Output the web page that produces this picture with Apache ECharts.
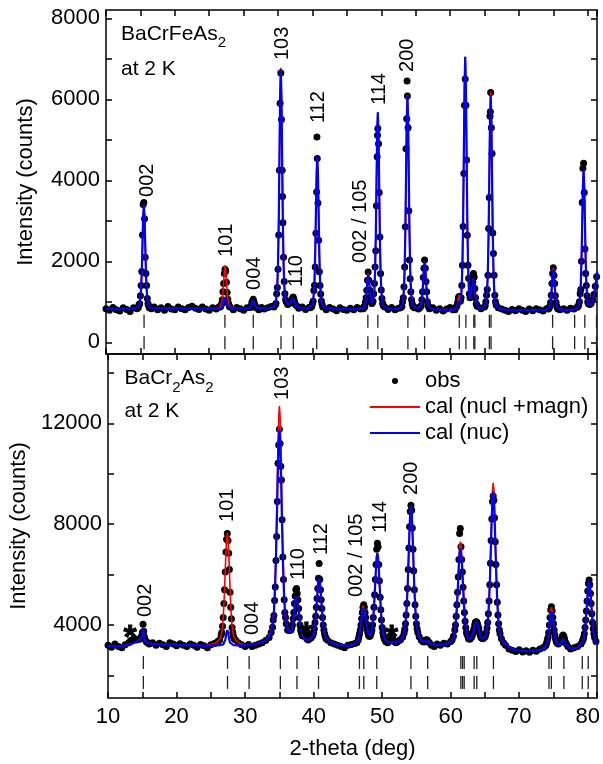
<!DOCTYPE html>
<html><head><meta charset="utf-8">
<script src="https://cdn.jsdelivr.net/npm/echarts@6/dist/echarts.min.js"></script>
<style>html,body{margin:0;padding:0;background:#fff}#c{width:603px;height:764px}</style>
</head><body><div id="c"></div>
<script>
// ---------------- DATA (2-theta in deg, intensity in counts) ----------------
const topObs = [[10.0,830],[10.5,790],[11.0,860],[11.5,800],[12.0,770],[12.5,850],[13.0,810],[13.5,760],[14.0,850],[14.5,830],
[14.7,860],[14.8,930],[14.9,950],[15.0,1150],[15.1,1400],[15.2,1750],[15.3,2650],[15.4,3400],[15.5,3450],[15.6,3050],[15.7,2100],[15.8,1700],[15.9,1400],[16.0,1080],[16.1,950],[16.2,900],[16.3,850],
[16.6,830],[17.0,870],[17.5,800],[18.0,850],[18.5,790],[19.0,880],[19.5,820],[20.0,800],[20.5,870],[21.0,830],[21.5,800],[22.0,860],[22.5,890],[23.0,840],[23.5,810],[24.0,870],[24.5,820],[25.0,790],[25.5,850],[26.0,820],[26.4,870],
[26.6,870],[26.7,900],[26.8,950],[26.9,1050],[27.0,1250],[27.1,1450],[27.2,1700],[27.3,1800],[27.4,1760],[27.5,1480],[27.6,1230],[27.7,1060],[27.8,960],[27.9,900],[28.0,870],
[28.5,800],[29.0,860],[29.5,830],[30.0,790],[30.5,850],
[31.0,860],[31.1,900],[31.2,990],[31.3,1010],[31.4,1060],[31.5,1000],[31.6,940],[31.7,900],[31.8,850],
[32.2,800],[32.6,860],[33.0,820],[33.5,850],[34.0,880],[34.4,870],
[34.6,920],[34.7,960],[34.8,1200],[34.9,1350],[35.0,1800],[35.1,2650],[35.2,4250],[35.3,5900],[35.4,6650],[35.5,5500],[35.6,4250],[35.65,3600],[35.7,2950],[35.8,2100],[35.9,1500],[36.0,1200],[36.1,1050],[36.2,1000],[36.4,930],[36.6,960],[36.8,990],[36.9,980],[37.0,1040],[37.1,1090],[37.2,1120],[37.3,1070],[37.4,1000],[37.5,940],[37.7,900],[38.0,840],[38.5,870],[39.0,810],[39.5,860],
[39.7,850],[39.9,880],[40.0,950],[40.1,1010],[40.2,1280],[40.3,1410],[40.4,1860],[40.5,2690],[40.6,3710],[40.65,5070],[40.7,4540],[40.8,3440],[40.9,2520],[41.0,1740],[41.1,1400],[41.2,1190],[41.3,1020],[41.4,930],[41.5,870],
[42.0,800],[42.5,860],[43.0,820],[43.5,780],[44.0,850],[44.5,810],[45.0,790],[45.5,840],[46.0,800],[46.5,860],[47.0,820],
[47.4,830],[47.5,880],[47.6,870],[47.7,990],[47.8,1100],[47.9,1284],[48.0,1530],[48.1,1736],[48.2,1530],[48.3,1290],[48.4,1120],[48.5,1030],[48.6,960],[48.7,970],[48.8,1010],[48.9,1200],[49.0,1450],[49.1,1860],[49.2,2260],[49.3,3370],[49.4,4580],[49.45,5110],[49.5,5280],[49.6,4900],[49.7,3700],[49.8,2600],[49.9,1700],[50.0,1290],[50.1,1080],[50.2,960],[50.3,900],[50.5,870],
[51.0,810],[51.5,860],[52.0,800],[52.5,840],
[52.8,850],[53.0,880],[53.1,1000],[53.2,1100],[53.3,1370],[53.4,1860],[53.5,2850],[53.6,4780],[53.7,5520],[53.75,6450],[53.8,6080],[53.9,5300],[54.0,3250],[54.1,2030],[54.2,1570],[54.3,1250],[54.4,1050],[54.5,950],[54.6,880],[54.8,850],
[55.1,850],[55.4,820],
[55.6,850],[55.7,880],[55.8,900],[55.9,1050],[56.0,1250],[56.1,1600],[56.2,1830],[56.3,2030],[56.4,1830],[56.5,1500],[56.6,1250],[56.7,1000],[56.8,900],[56.9,870],[57.0,830],
[57.5,850],[58.0,790],[58.5,830],[59.0,770],[59.5,820],[60.0,860],[60.4,800],
[60.6,830],[60.7,800],[60.8,850],[60.9,870],[61.0,900],[61.1,990],[61.2,1090],[61.3,1130],[61.4,1070],[61.5,1010],[61.6,1100],[61.7,1400],[61.8,1900],[61.9,2860],[62.0,4170],[62.1,5850],[62.2,6500],[62.3,5850],[62.4,4500],[62.5,2640],[62.6,1900],[62.7,1580],[62.8,1200],[62.9,1100],[63.0,1210],[63.1,1380],[63.2,1360],[63.3,1480],[63.4,1700],[63.5,1610],[63.6,1330],[63.7,1100],[63.8,950],[63.9,900],[64.0,880],[64.5,830],[65.0,870],
[65.1,900],[65.2,1000],[65.3,1160],[65.4,1300],[65.5,1654],[65.6,2807],[65.7,3573],[65.8,5580],[65.85,5690],[65.9,6165],[66.0,5300],[66.1,4659],[66.2,2700],[66.3,2190],[66.4,1654],[66.5,1160],[66.6,1000],[66.7,920],[67.0,850],
[67.5,820],[68.0,790],[68.5,760],[69.0,810],[69.5,780],[70.0,830],[70.5,790],[71.0,760],[71.5,820],[72.0,780],[72.5,830],[73.0,800],[73.5,770],[74.0,830],
[74.3,820],[74.4,850],[74.5,880],[74.6,980],[74.7,1160],[74.8,1450],[74.9,1700],[75.0,1840],[75.1,1650],[75.2,1450],[75.3,1150],[75.4,990],[75.5,890],[75.6,840],[75.7,820],
[76.0,800],[76.5,830],[77.0,790],[77.5,840],[78.0,820],[78.4,860],
[78.6,880],[78.7,930],[78.8,1000],[78.9,1200],[79.0,1300],[79.1,2000],[79.2,3450],[79.3,4300],[79.4,4420],[79.5,3700],[79.6,2300],[79.7,1700],[79.8,1400],[79.9,1150],[80.0,1000],[80.1,950],[80.3,930],[80.5,960],[80.7,1050],[80.9,1180],[81.1,1380],[81.3,1620]];

const topCalNuc = [[10,828],[11,824],[12,822],[13,826],[14,840],[14.5,860],
[14.7,876],[14.8,907],[14.9,971],[15.0,1087],[15.1,1318],[15.2,1755],[15.3,2423],[15.4,3092],[15.5,3400],[15.6,3092],[15.7,2423],[15.8,1755],[15.9,1318],[16.0,1087],[16.1,971],[16.2,907],[16.3,876],
[16.6,855],[17,845],[18,838],[19,836],[20,836],[21,835],[22,834],[23,833],[24,832],[25,832],[26,834],[26.5,842],
[26.7,852],[26.8,867],[26.9,895],[27.0,948],[27.1,1030],[27.2,1112],[27.3,1150],[27.4,1112],[27.5,1030],[27.6,948],[27.7,895],[27.8,867],[27.9,852],
[28.2,843],[29,836],[30,834],[30.6,842],
[30.9,854],[31.0,873],[31.1,910],[31.2,967],[31.3,1024],[31.4,1050],[31.5,1024],[31.6,967],[31.7,910],[31.8,873],[31.9,854],
[32.3,843],[33,838],[33.6,845],[34.0,855],[34.2,868],[34.4,890],
[34.6,940],[34.7,1010],[34.8,1160],[34.9,1425],[35.0,1955],[35.1,2960],[35.2,4495],[35.3,6030],[35.4,6740],[35.5,6030],[35.6,4495],[35.7,2960],[35.8,1955],[35.9,1425],[36.0,1160],[36.1,1040],[36.2,985],[36.4,945],[36.6,940],[36.7,948],[36.8,962],[36.9,990],[37.0,1030],[37.1,1080],[37.2,1110],[37.3,1080],[37.4,1020],[37.5,965],[37.6,920],[37.8,880],[38.1,856],[38.6,845],[39.2,848],[39.7,868],
[39.9,900],[40.0,945],[40.1,1040],[40.2,1210],[40.3,1545],[40.4,2185],[40.5,3165],[40.6,4145],[40.7,4600],[40.8,4145],[40.9,3165],[41.0,2185],[41.1,1545],[41.2,1210],[41.3,1040],[41.4,945],[41.5,900],[41.7,868],[42,850],[43,832],[44,824],[45,820],[46,820],[46.8,828],
[47.2,838],[47.4,850],[47.5,868],[47.6,905],[47.7,980],[47.8,1120],[47.9,1335],[48.0,1550],[48.1,1670],[48.2,1575],[48.3,1365],[48.4,1160],[48.5,1030],[48.6,975],[48.7,960],[48.8,995],[48.9,1105],[49.0,1305],[49.1,1745],[49.2,2570],[49.3,3835],[49.4,5100],[49.5,5680],[49.6,5100],[49.7,3835],[49.8,2570],[49.9,1745],[50.0,1305],[50.1,1100],[50.2,965],[50.3,910],[50.5,865],[50.8,840],[51.3,828],[52,822],[52.5,830],
[52.8,862],[53.0,905],[53.1,970],[53.2,1100],[53.3,1340],[53.4,1815],[53.5,2715],[53.6,4090],[53.7,5465],[53.8,6100],[53.9,5465],[54.0,4090],[54.1,2715],[54.2,1815],[54.3,1340],[54.4,1100],[54.5,970],[54.6,905],[54.8,862],[55.1,840],[55.4,838],
[55.6,848],[55.7,876],[55.8,928],[55.9,1035],[56.0,1238],[56.1,1548],[56.2,1858],[56.3,2000],[56.4,1858],[56.5,1548],[56.6,1238],[56.7,1035],[56.8,928],[56.9,876],[57.0,848],[57.3,828],[58,812],[59,806],[60,806],
[60.5,808],[60.7,812],[60.8,820],[60.9,840],[61.0,875],[61.1,935],[61.2,1005],[61.3,1040],[61.4,1010],[61.5,990],[61.6,1090],[61.7,1400],[61.8,2000],[61.9,3050],[62.0,4675],[62.1,6300],[62.2,7050],[62.3,6300],[62.4,4675],[62.5,3050],[62.6,2000],[62.7,1425],[62.8,1150],[62.9,1080],[63.0,1200],[63.1,1320],[63.2,1300],[63.3,1400],[63.4,1580],[63.5,1560],[63.6,1340],[63.7,1120],[63.8,980],[63.9,910],[64.0,870],[64.2,848],[64.5,840],[64.8,848],[65.0,870],
[65.1,905],[65.2,969],[65.3,1102],[65.4,1340],[65.5,1817],[65.6,2718],[65.7,4096],[65.8,5474],[65.9,6100],[66.0,5474],[66.1,4096],[66.2,2718],[66.3,1817],[66.4,1340],[66.5,1102],[66.6,969],[66.7,905],[66.9,860],[67.2,830],[68,806],[69,796],[70,792],[71,790],[72,790],[73,793],[73.7,800],[74.0,808],
[74.2,815],[74.3,825],[74.4,849],[74.5,894],[74.6,982],[74.7,1150],[74.8,1406],[74.9,1662],[75.0,1780],[75.1,1662],[75.2,1406],[75.3,1150],[75.4,982],[75.5,894],[75.6,849],[75.7,825],[75.9,810],[76.5,800],[77.2,798],[77.8,805],[78.2,822],
[78.4,840],[78.6,872],[78.7,913],[78.8,999],[78.9,1154],[79.0,1464],[79.1,2048],[79.2,2943],[79.3,3837],[79.4,4250],[79.5,3837],[79.6,2943],[79.7,2048],[79.8,1464],[79.9,1154],[80.0,1010],[80.1,940],[80.2,910],[80.4,920],[80.6,980],[80.8,1090],[81.0,1260],[81.2,1500],[81.4,1750]];

const topCalMag = [[10,828],[11,824],[12,822],[13,826],[14,840],[14.5,860],
[14.7,876],[14.8,907],[14.9,971],[15.0,1087],[15.1,1318],[15.2,1755],[15.3,2423],[15.4,3092],[15.5,3400],[15.6,3092],[15.7,2423],[15.8,1755],[15.9,1318],[16.0,1087],[16.1,971],[16.2,907],[16.3,876],
[16.6,855],[17,845],[18,838],[19,836],[20,836],[21,835],[22,834],[23,833],[24,832],[25,832],[26,836],
[26.3,851],[26.5,867],[26.6,888],[26.7,920],[26.8,973],[26.9,1069],[27.0,1240],[27.1,1495],[27.2,1772],[27.3,1900],[27.4,1772],[27.5,1495],[27.6,1240],[27.7,1069],[27.8,973],[27.9,920],[28.0,888],[28.1,867],[28.3,851],
[29,838],[30,834],[30.6,842],
[30.9,854],[31.0,873],[31.1,910],[31.2,967],[31.3,1024],[31.4,1050],[31.5,1024],[31.6,967],[31.7,910],[31.8,873],[31.9,854],
[32.3,843],[33,838],[33.6,845],[34.0,855],[34.2,868],[34.4,890],
[34.6,940],[34.7,1010],[34.8,1160],[34.9,1425],[35.0,1955],[35.1,2960],[35.2,4495],[35.3,6050],[35.4,6780],[35.5,6050],[35.6,4495],[35.7,2960],[35.8,1955],[35.9,1425],[36.0,1160],[36.1,1040],[36.2,985],[36.4,945],[36.6,940],[36.7,948],[36.8,962],[36.9,990],[37.0,1030],[37.1,1080],[37.2,1110],[37.3,1080],[37.4,1020],[37.5,965],[37.6,920],[37.8,880],[38.1,856],[38.6,845],[39.2,848],[39.7,868],
[39.9,900],[40.0,945],[40.1,1040],[40.2,1210],[40.3,1545],[40.4,2185],[40.5,3165],[40.6,4145],[40.7,4600],[40.8,4145],[40.9,3165],[41.0,2185],[41.1,1545],[41.2,1210],[41.3,1040],[41.4,945],[41.5,900],[41.7,868],[42,850],[43,832],[44,824],[45,820],[46,820],[46.8,828],
[47.2,838],[47.4,850],[47.5,868],[47.6,905],[47.7,980],[47.8,1120],[47.9,1345],[48.0,1580],[48.1,1710],[48.2,1600],[48.3,1375],[48.4,1160],[48.5,1030],[48.6,975],[48.7,960],[48.8,995],[48.9,1105],[49.0,1305],[49.1,1745],[49.2,2570],[49.3,3835],[49.4,5100],[49.5,5680],[49.6,5100],[49.7,3835],[49.8,2570],[49.9,1745],[50.0,1305],[50.1,1100],[50.2,965],[50.3,910],[50.5,865],[50.8,840],[51.3,828],[52,822],[52.5,830],
[52.8,862],[53.0,905],[53.1,970],[53.2,1100],[53.3,1340],[53.4,1815],[53.5,2715],[53.6,4090],[53.7,5465],[53.8,6100],[53.9,5465],[54.0,4090],[54.1,2715],[54.2,1815],[54.3,1340],[54.4,1100],[54.5,970],[54.6,905],[54.8,862],[55.1,840],[55.4,838],
[55.6,848],[55.7,876],[55.8,928],[55.9,1035],[56.0,1238],[56.1,1548],[56.2,1858],[56.3,2000],[56.4,1858],[56.5,1548],[56.6,1238],[56.7,1035],[56.8,928],[56.9,876],[57.0,848],[57.3,828],[58,812],[59,806],[60,806],
[60.5,808],[60.7,812],[60.8,822],[60.9,845],[61.0,885],[61.1,960],[61.2,1090],[61.3,1160],[61.4,1080],[61.5,1000],[61.6,1090],[61.7,1400],[61.8,2000],[61.9,3050],[62.0,4675],[62.1,6300],[62.2,7050],[62.3,6300],[62.4,4675],[62.5,3050],[62.6,2000],[62.7,1425],[62.8,1150],[62.9,1080],[63.0,1200],[63.1,1320],[63.2,1300],[63.3,1400],[63.4,1580],[63.5,1560],[63.6,1340],[63.7,1120],[63.8,980],[63.9,910],[64.0,870],[64.2,848],[64.5,840],[64.8,848],[65.0,870],
[65.1,905],[65.2,969],[65.3,1102],[65.4,1340],[65.5,1817],[65.6,2718],[65.7,4096],[65.8,5500],[65.9,6180],[66.0,5500],[66.1,4096],[66.2,2718],[66.3,1817],[66.4,1340],[66.5,1102],[66.6,969],[66.7,905],[66.9,860],[67.2,830],[68,806],[69,796],[70,792],[71,790],[72,790],[73,793],[73.7,800],[74.0,808],
[74.2,815],[74.3,825],[74.4,849],[74.5,894],[74.6,982],[74.7,1150],[74.8,1420],[74.9,1700],[75.0,1840],[75.1,1700],[75.2,1420],[75.3,1150],[75.4,982],[75.5,894],[75.6,849],[75.7,825],[75.9,810],[76.5,800],[77.2,798],[77.8,805],[78.2,822],
[78.4,840],[78.6,872],[78.7,913],[78.8,999],[78.9,1154],[79.0,1464],[79.1,2048],[79.2,2943],[79.3,3837],[79.4,4250],[79.5,3837],[79.6,2943],[79.7,2048],[79.8,1464],[79.9,1154],[80.0,1010],[80.1,940],[80.2,910],[80.4,920],[80.6,980],[80.8,1090],[81.0,1260],[81.2,1500],[81.4,1750]];

const botObs = [[10.0,3200],[10.5,3120],[11.0,3250],[11.5,3150],[12.0,3100],[12.5,3220],[13.0,3300],[13.3,3380],[13.6,3420],[13.9,3450],[14.2,3400],[14.5,3420],[14.7,3450],[14.8,3500],[14.9,3550],[15.0,3700],[15.1,4030],[15.2,3750],[15.3,3520],[15.4,3420],[15.6,3330],[15.8,3300],[16.0,3250],[16.5,3300],[17.0,3200],[17.5,3280],[18.0,3220],[18.5,3150],[19.0,3300],[19.5,3250],[20.0,3180],[20.5,3260],[21.0,3200],[21.5,3150],[22.0,3250],[22.5,3200],[23.0,3120],[23.5,3230],[24.0,3180],[24.5,3100],[25.0,3220],[25.5,3270],[26.0,3350],
[26.3,3400],[26.5,3600],[26.6,3700],[26.7,3950],[26.8,4300],[26.9,4850],[27.0,5400],[27.1,6100],[27.2,6900],[27.3,7400],[27.4,7630],[27.5,7350],[27.6,6850],[27.7,6200],[27.8,5300],[27.9,4700],[28.0,4250],[28.1,3900],[28.2,3700],[28.3,3550],[28.4,3450],[28.6,3400],[29.0,3300],[29.5,3220],[30.0,3150],[30.5,3230],[31.0,3150],[31.5,3200],[32.0,3250],[32.5,3300],[33.0,3380],[33.5,3500],[33.8,3700],
[34.0,3915],[34.1,4200],[34.2,4380],[34.3,4970],[34.4,5505],[34.5,6560],[34.6,7509],[34.7,8897],[34.8,10416],[34.9,11140],[35.0,11762],[35.1,11200],[35.2,10300],[35.3,9755],[35.4,8170],[35.5,6700],[35.6,5800],[35.7,5000],[35.8,4500],[35.9,4300],[36.0,4050],[36.2,3800],[36.4,3780],[36.6,3800],[36.7,3800],[36.8,3900],[36.9,4000],[37.0,4250],[37.1,4500],[37.2,4850],[37.3,5150],[37.4,5400],[37.5,5450],[37.6,5250],[37.7,5000],[37.8,4650],[37.9,4300],[38.0,4000],[38.1,3800],[38.2,3700],[38.3,3600],[38.4,3560],[38.5,3600],[38.6,3620],[38.7,3650],[38.8,3600],[38.9,3520],[39.0,3450],[39.2,3400],[39.4,3450],[39.6,3480],[39.8,3550],[39.9,3620],[40.0,3700],[40.1,3850],[40.2,4100],[40.3,4350],[40.4,4700],[40.5,5050],[40.6,5450],[40.7,5850],[40.8,6440],[40.9,5800],[41.0,5400],[41.1,5000],[41.2,4650],[41.3,4300],[41.4,4000],[41.5,3800],[41.6,3650],[41.7,3550],[41.8,3450],[42.0,3400],[42.5,3300],[43.0,3250],[43.5,3200],[44.0,3150],[44.5,3100],[45.0,3200],[45.5,3230],[46.0,3270],
[46.3,3300],[46.5,3400],[46.6,3520],[46.7,3650],[46.8,3800],[46.9,4000],[47.0,4250],[47.1,4500],[47.2,4700],[47.3,4800],[47.4,4700],[47.5,4500],[47.6,4300],[47.7,4050],[47.8,3850],[47.9,3700],[48.0,3600],[48.1,3550],[48.2,3550],[48.3,3600],[48.4,3680],[48.5,3800],[48.6,4000],[48.7,4300],[48.8,4700],[48.9,5200],[49.0,5800],[49.1,6400],[49.2,7000],[49.3,7240],[49.4,7100],[49.5,6400],[49.6,5750],[49.7,5100],[49.8,4600],[49.9,4200],[50.0,3900],[50.1,3700],[50.2,3550],[50.3,3450],[50.5,3350],[50.8,3300],[51.0,3350],[51.2,3420],[51.4,3480],[51.6,3420],[51.8,3350],[52.0,3300],[52.2,3330],[52.5,3380],[52.7,3420],[53.0,3520],[53.2,3680],[53.3,3830],[53.4,4050],[53.5,4400],[53.6,4850],[53.7,5450],[53.8,6200],[53.9,7050],[54.0,7900],[54.1,8500],[54.2,8750],[54.3,8550],[54.4,7850],[54.5,7000],[54.6,6150],[54.7,5400],[54.8,4800],[54.9,4350],[55.0,4050],[55.1,3850],[55.2,3700],[55.4,3530],[55.7,3400],[55.9,3350],[56.1,3330],[56.3,3380],[56.4,3400],[56.5,3410],[56.6,3390],[56.7,3350],[56.9,3300],[57.2,3200],[57.6,3150],[58.0,3250],[58.5,3200],[59.0,3280],[59.5,3250],
[60.0,3350],[60.2,3400],[60.4,3550],[60.6,3800],[60.7,4000],[60.8,4350],[60.9,4800],[61.0,5300],[61.1,5900],[61.2,6600],[61.3,7630],[61.4,7830],[61.5,7100],[61.6,6600],[61.7,6100],[61.8,5500],[61.9,4950],[62.0,4500],[62.1,4150],[62.2,3900],[62.3,3700],[62.4,3600],[62.6,3450],[62.8,3430],[63.0,3500],[63.1,3550],[63.2,3650],[63.3,3750],[63.4,3850],[63.5,4000],[63.6,4100],[63.7,4130],[63.8,4120],[63.9,4050],[64.0,3950],[64.1,3850],[64.2,3700],[64.3,3600],[64.4,3520],[64.5,3480],[64.7,3450],[64.9,3500],[65.0,3530],[65.1,3600],[65.2,3700],[65.3,3880],[65.4,4100],[65.5,4450],[65.6,4950],[65.7,5600],[65.8,6450],[65.9,7350],[66.0,8200],[66.1,8900],[66.2,9120],[66.3,8950],[66.4,8250],[66.5,7300],[66.6,6400],[66.7,5600],[66.8,4900],[66.9,4400],[67.0,4050],[67.1,3800],[67.2,3650],[67.4,3450],[67.7,3300],[68.0,3200],[68.5,3050],[69.0,3000],[69.5,2950],[70.0,3020],[70.5,2930],[71.0,2980],[71.5,2920],[72.0,3000],[72.5,2960],[73.0,3050],
[73.5,3100],[73.7,3150],[73.9,3200],[74.0,3300],[74.1,3400],[74.2,3500],[74.3,3700],[74.4,4000],[74.5,4300],[74.6,4600],[74.7,4725],[74.8,4550],[74.9,4300],[75.0,4050],[75.1,3800],[75.2,3600],[75.3,3450],[75.4,3350],[75.5,3300],[75.7,3250],[75.9,3300],[76.0,3330],[76.1,3380],[76.2,3450],[76.3,3550],[76.4,3600],[76.5,3550],[76.6,3450],[76.7,3350],[76.9,3250],[77.1,3150],[77.5,3050],[78.0,3100],[78.5,3150],[79.0,3250],[79.2,3350],[79.3,3400],[79.4,3500],[79.5,3650],[79.6,3900],[79.7,4200],[79.8,4550],[79.9,4950],[80.0,5350],[80.1,5650],[80.2,5780],[80.3,5600],[80.4,5250],[80.5,4850],[80.6,4450],[80.7,4100],[80.8,3850],[80.9,3650],[81.0,3500],[81.2,3350],[81.4,3250]];

const botCalNuc = [[10,3170],[11,3160],[12,3170],[12.5,3190],[13,3220],[13.5,3260],[14.0,3320],[14.3,3360],[14.5,3390],[14.7,3430],[14.8,3470],[14.9,3540],[15.0,3680],[15.1,3850],[15.2,3680],[15.3,3500],[15.4,3400],[15.6,3330],[15.8,3290],[16.2,3260],[17,3240],[18,3230],[19,3230],[20,3220],[21,3210],[22,3200],[23,3190],[24,3185],[25,3185],[26,3195],[26.5,3210],
[26.8,3225],[26.9,3250],[27.0,3300],[27.1,3400],[27.2,3560],[27.3,3720],[27.4,3800],[27.5,3720],[27.6,3560],[27.7,3400],[27.8,3300],[27.9,3250],[28.0,3225],[28.3,3205],[29,3195],[30,3190],[31,3235],[32,3275],[32.5,3319],[33,3394],[33.5,3526],[33.8,3710],
[34.0,3965],[34.1,4187],[34.2,4520],[34.3,5015],[34.4,5715],[34.5,6635],[34.6,7785],[34.7,9080],[34.8,10365],[34.9,11352],[35.0,11735],[35.1,11380],[35.2,10400],[35.3,9115],[35.4,7825],[35.5,6680],[35.6,5765],[35.7,5070],[35.8,4585],[35.9,4260],[36.0,4035],[36.2,3810],[36.5,3700],[36.6,3705],[36.7,3735],[36.8,3815],[36.9,3947],[37.0,4129],[37.1,4383],[37.2,4648],[37.3,4917],[37.4,5123],[37.5,5195],[37.6,5082],[37.7,4871],[37.8,4598],[37.9,4325],[38.0,4085],[38.1,3892],[38.2,3740],[38.3,3620],[38.4,3540],[38.5,3493],[38.7,3441],[39.0,3411],[39.3,3422],[39.6,3463],[39.8,3534],[39.9,3598],[40.0,3697],[40.1,3850],[40.2,4066],[40.3,4350],[40.4,4670],[40.5,5060],[40.6,5450],[40.7,5750],[40.8,5850],[40.9,5750],[41.0,5450],[41.1,5060],[41.2,4670],[41.3,4330],[41.4,4040],[41.5,3820],[41.6,3660],[41.7,3560],[41.8,3490],[41.9,3445],[42.0,3410],[42.3,3350],[42.8,3280],[43.3,3240],[44.0,3200],[45.0,3170],
[45.5,3207],[46.0,3250],[46.3,3309],[46.5,3414],[46.6,3506],[46.7,3636],[46.8,3807],[46.9,4020],[47.0,4260],[47.1,4500],[47.2,4660],[47.3,4725],[47.4,4673],[47.5,4509],[47.6,4294],[47.7,4079],[47.8,3889],[47.9,3750],[48.0,3652],[48.1,3594],[48.2,3586],[48.3,3607],[48.4,3681],[48.5,3805],[48.6,4004],[48.7,4296],[48.8,4688],[48.9,5178],[49.0,5734],[49.1,6286],[49.2,6710],[49.3,6850],[49.4,6700],[49.5,6270],[49.6,5710],[49.7,5150],[49.8,4650],[49.9,4250],[50.0,3950],[50.1,3740],[50.2,3600],[50.3,3505],[50.5,3400],[50.8,3330],[51.3,3310],[51.8,3330],[52.2,3340],[52.7,3410],[53.0,3520],[53.2,3690],[53.3,3835],[53.4,4050],[53.5,4375],[53.6,4830],[53.7,5430],[53.8,6190],[53.9,7030],[54.0,7870],[54.1,8515],[54.2,8750],[54.3,8515],[54.4,7870],[54.5,7030],[54.6,6190],[54.7,5430],[54.8,4830],[54.9,4375],[55.0,4050],[55.1,3850],[55.2,3710],[55.4,3520],[55.7,3400],[55.9,3340],[56.1,3330],[56.3,3370],[56.4,3390],[56.5,3400],[56.6,3390],[56.7,3360],[56.9,3300],[57.2,3250],[57.6,3220],[58,3210],[58.5,3220],[59,3240],[59.5,3270],
[60.0,3315],[60.4,3492],[60.6,3745],[60.7,3971],[60.8,4290],[60.9,4710],[61.0,5235],[61.1,5826],[61.2,6414],[61.3,6865],[61.4,7040],[61.5,6965],[61.6,6614],[61.7,6086],[61.8,5515],[61.9,4960],[62.0,4490],[62.1,4121],[62.2,3905],[62.3,3718],[62.4,3594],[62.6,3456],[62.8,3440],[63.0,3478],[63.1,3538],[63.2,3623],[63.3,3730],[63.4,3860],[63.5,3990],[63.6,4090],[63.7,4150],[63.8,4150],[63.9,4080],[64.0,3975],[64.1,3850],[64.2,3730],[64.3,3622],[64.4,3543],[64.5,3490],[64.6,3461],[64.7,3462],[64.8,3466],[64.9,3492],[65.0,3536],[65.1,3612],[65.2,3710],[65.3,3866],[65.4,4104],[65.5,4459],[65.6,4963],[65.7,5628],[65.8,6460],[65.9,7398],[66.0,8290],[66.1,9000],[66.2,9280],[66.3,9000],[66.4,8290],[66.5,7360],[66.6,6420],[66.7,5590],[66.8,4920],[66.9,4420],[67.0,4060],[67.1,3800],[67.2,3640],[67.4,3460],[67.7,3320],[68.2,3180],[68.7,3090],[69.2,3040],[70,2990],[71,2970],[72,2975],[73,3000],
[73.5,3070],[73.8,3140],[74.0,3250],[74.1,3330],[74.2,3450],[74.3,3640],[74.4,3900],[74.5,4200],[74.6,4430],[74.7,4530],[74.8,4440],[74.9,4270],[75.0,4040],[75.1,3820],[75.2,3620],[75.3,3470],[75.4,3360],[75.5,3280],[75.6,3230],[75.7,3200],[75.8,3200],[75.9,3220],[76.0,3250],[76.1,3300],[76.2,3360],[76.3,3420],[76.4,3450],[76.5,3420],[76.6,3360],[76.7,3290],[76.8,3230],[77.0,3160],[77.3,3100],[77.7,3080],[78.2,3090],[78.6,3130],[79.0,3220],[79.2,3288],[79.3,3358],[79.4,3463],[79.5,3620],[79.6,3841],[79.7,4133],[79.8,4497],[79.9,4908],[80.0,5315],[80.1,5629],[80.2,5750],[80.3,5629],[80.4,5315],[80.5,4908],[80.6,4497],[80.7,4133],[80.8,3841],[80.9,3620],[81.0,3463],[81.1,3358],[81.2,3288],[81.4,3207]];

const botCalMag = [[10,3170],[11,3160],[12,3170],[12.5,3190],[13,3220],[13.5,3260],[14.0,3320],[14.3,3360],[14.5,3390],[14.7,3430],[14.8,3470],[14.9,3540],[15.0,3680],[15.1,3850],[15.2,3680],[15.3,3500],[15.4,3400],[15.6,3330],[15.8,3290],[16.2,3260],[17,3240],[18,3230],[19,3230],[20,3220],[21,3210],[22,3200],[23,3190],[24,3185],
[24.9,3226],[25.4,3257],[25.9,3324],[26.2,3413],[26.4,3502],[26.5,3591],[26.6,3725],[26.7,3948],[26.8,4305],[26.9,4796],[27.0,5420],[27.1,6178],[27.2,6892],[27.3,7427],[27.4,7650],[27.5,7427],[27.6,6892],[27.7,6178],[27.8,5420],[27.9,4796],[28.0,4305],[28.1,3948],[28.2,3725],[28.3,3591],[28.4,3502],[28.6,3413],[28.9,3324],[29.4,3257],[29.9,3226],[30.5,3215],[31,3235],[32,3275],[32.5,3319],[33,3394],
[33.5,3570],[33.8,3770],[34.0,4050],[34.1,4300],[34.2,4665],[34.3,5215],[34.4,5990],[34.5,7011],[34.6,8286],[34.7,9722],[34.8,11150],[34.9,12255],[35.0,12685],[35.1,12280],[35.2,11190],[35.3,9760],[35.4,8330],[35.5,7060],[35.6,6040],[35.7,5270],[35.8,4720],[35.9,4370],[36.0,4120],[36.2,3870],[36.5,3730],[36.6,3720],[36.7,3745],[36.8,3820],[36.9,3950],[37.0,4129],[37.1,4383],[37.2,4648],[37.3,4917],[37.4,5123],[37.5,5195],[37.6,5082],[37.7,4871],[37.8,4598],[37.9,4325],[38.0,4085],[38.1,3892],[38.2,3740],[38.3,3620],[38.4,3540],[38.5,3493],[38.7,3441],[39.0,3411],[39.3,3422],[39.6,3463],[39.8,3534],[39.9,3598],[40.0,3697],[40.1,3850],[40.2,4066],[40.3,4350],[40.4,4670],[40.5,5060],[40.6,5450],[40.7,5750],[40.8,5850],[40.9,5750],[41.0,5450],[41.1,5060],[41.2,4670],[41.3,4330],[41.4,4040],[41.5,3820],[41.6,3660],[41.7,3560],[41.8,3490],[41.9,3445],[42.0,3410],[42.3,3350],[42.8,3280],[43.3,3240],[44.0,3200],[45.0,3170],
[45.5,3207],[46.0,3250],[46.3,3309],[46.5,3414],[46.6,3506],[46.7,3636],[46.8,3807],[46.9,4030],[47.0,4290],[47.1,4560],[47.2,4760],[47.3,4830],[47.4,4720],[47.5,4530],[47.6,4300],[47.7,4079],[47.8,3889],[47.9,3750],[48.0,3652],[48.1,3594],[48.2,3586],[48.3,3607],[48.4,3681],[48.5,3805],[48.6,4004],[48.7,4296],[48.8,4688],[48.9,5178],[49.0,5734],[49.1,6286],[49.2,6710],[49.3,6850],[49.4,6700],[49.5,6270],[49.6,5710],[49.7,5150],[49.8,4650],[49.9,4250],[50.0,3950],[50.1,3740],[50.2,3600],[50.3,3505],[50.5,3400],[50.8,3330],[51.3,3310],[51.8,3330],[52.2,3340],[52.7,3410],[53.0,3520],[53.2,3690],[53.3,3835],[53.4,4050],[53.5,4375],[53.6,4830],[53.7,5430],[53.8,6190],[53.9,7030],[54.0,7870],[54.1,8515],[54.2,8750],[54.3,8515],[54.4,7870],[54.5,7030],[54.6,6190],[54.7,5430],[54.8,4830],[54.9,4375],[55.0,4050],[55.1,3850],[55.2,3710],[55.4,3520],[55.7,3400],[55.9,3340],[56.1,3330],[56.3,3370],[56.4,3390],[56.5,3400],[56.6,3390],[56.7,3360],[56.9,3300],[57.2,3250],[57.6,3220],[58,3210],[58.5,3220],[59,3240],[59.5,3270],
[60.0,3315],[60.4,3492],[60.6,3745],[60.7,3971],[60.8,4290],[60.9,4710],[61.0,5235],[61.1,5900],[61.2,6550],[61.3,7100],[61.4,7300],[61.5,7200],[61.6,6850],[61.7,6350],[61.8,5800],[61.9,5250],[62.0,4750],[62.1,4300],[62.2,3990],[62.3,3760],[62.4,3610],[62.6,3456],[62.8,3440],[63.0,3478],[63.1,3538],[63.2,3623],[63.3,3730],[63.4,3860],[63.5,3990],[63.6,4090],[63.7,4150],[63.8,4150],[63.9,4080],[64.0,3975],[64.1,3850],[64.2,3730],[64.3,3622],[64.4,3543],[64.5,3490],[64.6,3461],[64.7,3462],[64.8,3466],[64.9,3492],[65.0,3536],[65.1,3612],[65.2,3710],[65.3,3866],[65.4,4104],[65.5,4459],[65.6,4963],[65.7,5660],[65.8,6560],[65.9,7600],[66.0,8580],[66.1,9350],[66.2,9640],[66.3,9350],[66.4,8580],[66.5,7560],[66.6,6520],[66.7,5620],[66.8,4920],[66.9,4420],[67.0,4060],[67.1,3800],[67.2,3640],[67.4,3460],[67.7,3320],[68.2,3180],[68.7,3090],[69.2,3040],[70,2990],[71,2970],[72,2975],[73,3000],
[73.5,3070],[73.8,3140],[74.0,3250],[74.1,3330],[74.2,3460],[74.3,3670],[74.4,3960],[74.5,4300],[74.6,4580],[74.7,4700],[74.8,4590],[74.9,4360],[75.0,4080],[75.1,3830],[75.2,3620],[75.3,3470],[75.4,3360],[75.5,3280],[75.6,3230],[75.7,3200],[75.8,3200],[75.9,3220],[76.0,3250],[76.1,3300],[76.2,3360],[76.3,3420],[76.4,3450],[76.5,3420],[76.6,3360],[76.7,3290],[76.8,3230],[77.0,3160],[77.3,3100],[77.7,3080],[78.2,3090],[78.6,3130],[79.0,3220],[79.2,3288],[79.3,3358],[79.4,3463],[79.5,3620],[79.6,3841],[79.7,4133],[79.8,4497],[79.9,4908],[80.0,5315],[80.1,5629],[80.2,5750],[80.3,5629],[80.4,5315],[80.5,4908],[80.6,4497],[80.7,4133],[80.8,3841],[80.9,3620],[81.0,3463],[81.1,3358],[81.2,3288],[81.4,3207]];

// Bragg reflection positions (two rows of tick marks per panel)
const topBragg = [15.53, 27.28, 31.4, 35.43, 37.22, 40.62, 48.05, 49.5, 53.87, 56.3, 61.34, 62.3, 63.45, 63.6, 65.71, 65.95, 74.9, 78.1, 79.58, 81.28];
const botBragg = [15.15, 27.43, 30.58, 35.14, 37.56, 40.71, 46.68, 47.32, 49.21, 54.2, 56.64, 61.48, 61.73, 61.97, 63.42, 63.81, 66.24, 74.34, 74.69, 76.52, 79.2, 80.07];
const topBraggRows = [518, -12];
const botBraggRows = [2515, 1723];

// Peak (hkl) labels: text, 2-theta and intensity where the label starts
const topHkl  = ['002', '101', '004', '103', '110', '112', '002 / 105', '114', '200'];
const topHklX = [15.96, 27.44, 31.58, 35.65, 37.61, 40.81, 47.05, 49.67, 53.81];
const topHklY = [3588, 2106, 1291, 6970, 1365, 5414, 1958, 5859, 6674];
const botHkl  = ['002', '101', '004', '103', '110', '112', '002 / 105', '114', '200'];
const botHklX = [15.52, 27.44, 31.07, 35.43, 37.83, 41.17, 46.25, 49.81, 54.25];
const botHklY = [4317, 8086, 3603, 12926, 5785, 6777, 5111, 7650, 9157];
// impurity peaks marked with *
const starX = [13.2, 38.92, 51.37];
const starY = [3802, 3921, 3802];

// tick / label values
const topYTicks = [0, 1000, 2000, 3000, 4000, 5000, 6000, 7000, 8000];
const topYLabels = [0, 2000, 4000, 6000, 8000];
const botYTicks = [2000, 4000, 6000, 8000, 10000, 12000, 14000];
const botYLabels = [4000, 8000, 12000];

// ---------------- CHART ----------------
const FONT = '"Liberation Sans", Arial, Helvetica, sans-serif';
const AX = {color: '#000', width: 1.5};
const chart = echarts.init(document.getElementById('c'), null, {renderer: 'canvas'});

function xAxisDef(gridIndex, position, showLabels) {
  return {
    type: 'value', gridIndex, position, min: 10, max: 81.35, interval: 5,
    axisLine: {show: true, onZero: false, lineStyle: AX},
    axisTick: {show: true, inside: true, length: 6, lineStyle: AX},
    axisLabel: {show: showLabels, margin: 8, fontSize: 22, color: '#000', fontFamily: FONT,
      formatter: v => (Math.abs(v % 10) < 1e-6 ? String(Math.round(v)) : '')},
    splitLine: {show: false},
    name: showLabels ? '2-theta (deg)' : '', nameLocation: 'middle', nameGap: 40,
    nameTextStyle: {fontSize: 22, color: '#000', fontFamily: FONT}
  };
}
function yAxisDef(gridIndex, position, min, max, ticks, labels, showLabels) {
  return {
    type: 'value', gridIndex, position, min, max,
    axisLine: {show: true, onZero: false, lineStyle: AX},
    axisTick: {show: true, inside: true, length: 6, customValues: ticks, lineStyle: AX},
    axisLabel: {show: showLabels, customValues: labels, margin: 6, fontSize: 22, color: '#000', fontFamily: FONT,
      formatter: v => String(Math.round(v))},
    splitLine: {show: false},
    name: showLabels ? 'Intensity (counts)' : '', nameLocation: 'middle', nameGap: 69, nameRotate: 90,
    nameTextStyle: {fontSize: 22, color: '#000', fontFamily: FONT}
  };
}
function braggData(pos, rows) {
  const out = [];
  rows.forEach(r => pos.forEach(x => out.push([x, r])));
  return out;
}
function panel(ai, obs, mag, nuc, bragg, rows) {
  return [
    {name: 'obs', type: 'scatter', xAxisIndex: ai, yAxisIndex: ai, data: obs, symbol: 'circle', symbolSize: 7,
      itemStyle: {color: '#000', opacity: 1}, z: 2, silent: true},
    {name: 'cal (nucl +magn)', type: 'line', xAxisIndex: ai, yAxisIndex: ai, data: mag, symbol: 'none',
      lineStyle: {color: '#ff0000', width: 1.6}, itemStyle: {color: '#ff0000'}, z: 3, silent: true},
    {name: 'cal (nuc)', type: 'line', xAxisIndex: ai, yAxisIndex: ai, data: nuc, symbol: 'none',
      lineStyle: {color: '#0000ff', width: 2.2}, itemStyle: {color: '#0000ff'}, z: 4, silent: true},
    {name: 'bragg', type: 'scatter', xAxisIndex: ai, yAxisIndex: ai, data: braggData(bragg, rows),
      symbol: 'rect', symbolSize: [1.3, 13], itemStyle: {color: '#222', opacity: 1}, z: 2, silent: true}
  ];
}

const LINE_ICON = 'path://M0,0 L50,0 L50,2 L0,2 Z';
chart.setOption({
  animation: false,
  backgroundColor: '#fff',
  textStyle: {fontFamily: FONT},
  grid: [
    {left: 106, width: 491, top: 10, height: 344},
    {left: 106, width: 491, top: 354, height: 344}
  ],
  xAxis: [xAxisDef(0, 'bottom', false), xAxisDef(0, 'top', false), xAxisDef(1, 'bottom', true), xAxisDef(1, 'top', false)],
  yAxis: [
    yAxisDef(0, 'left', -290, 8205, topYTicks, topYLabels, true),
    yAxisDef(0, 'right', -290, 8205, topYTicks, topYLabels, false),
    yAxisDef(1, 'left', 1104, 14749, botYTicks, botYLabels, true),
    yAxisDef(1, 'right', 1104, 14749, botYTicks, botYLabels, false)
  ],
  legend: {
    show: true, orient: 'vertical', left: 365, top: 365, itemWidth: 50, itemHeight: 6, itemGap: 4,
    selectedMode: false, textStyle: {fontSize: 22, color: '#000', fontFamily: FONT},
    data: [
      {name: 'obs', icon: 'circle', itemStyle: {color: '#000', borderWidth: 0}},
      {name: 'cal (nucl +magn)', icon: LINE_ICON, itemStyle: {color: '#ff0000', borderWidth: 0}},
      {name: 'cal (nuc)', icon: LINE_ICON, itemStyle: {color: '#0000ff', borderWidth: 0}}
    ]
  },
  series: [
    ...panel(0, topObs, topCalMag, topCalNuc, topBragg, topBraggRows),
    ...panel(2, botObs, botCalMag, botCalNuc, botBragg, botBraggRows)
  ]
});

// --------- text annotations ---------
const ctx = document.createElement('canvas').getContext('2d');
function textW(t, s) { ctx.font = s + 'px ' + FONT; return ctx.measureText(t).width; }
const graphics = [];
function hkl(seriesIndex, names, xs, ys) {
  names.forEach((t, i) => {
    const p = chart.convertToPixel({seriesIndex}, [xs[i], ys[i]]);
    graphics.push({type: 'text', x: p[0], y: p[1], rotation: Math.PI / 2, z: 10, silent: true,
      style: {text: t, fontSize: 20, fontFamily: FONT, fill: '#000', align: 'left', verticalAlign: 'middle'}});
  });
}
hkl(0, topHkl, topHklX, topHklY);
hkl(4, botHkl, botHklX, botHklY);
starX.forEach((x, i) => {
  const p = chart.convertToPixel({seriesIndex: 4}, [x, starY[i]]);
  graphics.push({type: 'text', x: p[0], y: p[1] + 9, z: 10, silent: true,
    style: {text: '*', fontSize: 34, fontWeight: 'bold', fontFamily: FONT, fill: '#000',
      stroke: '#000', lineWidth: 0.8, align: 'center', verticalAlign: 'middle'}});
});
function formula(parts, left, cy) {
  let x = left;
  parts.forEach(([t, sub]) => {
    const s = sub ? 15 : 21;
    graphics.push({type: 'text', x, y: cy + (sub ? 9 : 0), z: 10, silent: true,
      style: {text: t, fontSize: s, fontFamily: FONT, fill: '#000', align: 'left', verticalAlign: 'middle'}});
    x += textW(t, s);
  });
}
formula([['BaCrFeAs', false], ['2', true]], 121, 34);
formula([['at 2 K', false]], 121, 69);
formula([['BaCr', false], ['2', true], ['As', false], ['2', true]], 124.5, 378.5);
formula([['at 2 K', false]], 124.5, 411);
chart.setOption({graphic: graphics});
</script>
</body></html>
